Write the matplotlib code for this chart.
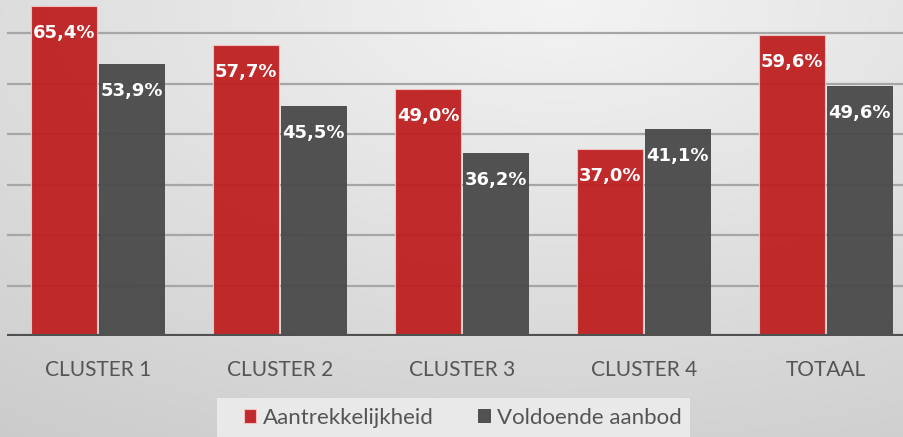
"""Aantrekkelijkheid vs voldoende aanbod per cluster."""

import matplotlib

matplotlib.use("Agg")
import matplotlib.pyplot as plt
import numpy as np
from matplotlib.patches import Rectangle

categories = ["CLUSTER 1", "CLUSTER 2", "CLUSTER 3", "CLUSTER 4", "TOTAAL"]
aantrekkelijkheid = [65.4, 57.7, 49.0, 37.0, 59.6]
voldoende_aanbod = [53.9, 45.5, 36.2, 41.1, 49.6]
series_names = ["Aantrekkelijkheid", "Voldoende aanbod"]

RED = "#bf1e1f"
GREY = "#4b4b4b"
TXT = "#555555"

W, H = 904, 437
fig = plt.figure(figsize=(W / 100, H / 100), dpi=100)

# achtergrond: lichte radiale gradient (licht bovenin, donkerder naar de randen)
bg = fig.add_axes([0, 0, 1, 1], zorder=-10)
yy, xx = np.mgrid[0:1:200j, 0:1:400j]
r = np.sqrt(((xx - 0.62) * 1.1) ** 2 + ((yy - 0.0) * 1.0) ** 2)
shade = 0.955 - 0.13 * np.clip(r, 0, 1.2)
bg.imshow(np.dstack([shade] * 3), aspect="auto", extent=[0, 1, 1, 0])
bg.set_xlim(0, 1)
bg.set_ylim(1, 0)
bg.axis("off")
# lichter legendavlak
bg.add_patch(Rectangle((217 / W, 398 / H), (690 - 217) / W, 1, color="#e9e9e9", lw=0))

ax = fig.add_axes([7 / W, (H - 336) / H, 910 / W, 336 / H])
ax.set_facecolor("none")

x = np.arange(len(categories))
bw = 0.36
gap = 0.006
ax.set_xlim(-0.5, len(categories) - 0.5)
ax.set_ylim(0, 66.6)

for g in range(10, 70, 10):
    ax.axhline(g, color="#a6a6a6", lw=1.6, zorder=1)
ax.axhline(0, color="#505050", lw=3, zorder=4)

b1 = ax.bar(x - bw / 2 - gap, aantrekkelijkheid, bw, color=RED, alpha=0.94,
            edgecolor="#f2c4c4", lw=0.8, zorder=2, label=series_names[0])
b2 = ax.bar(x + bw / 2 + gap, voldoende_aanbod, bw, color=GREY, alpha=0.96,
            lw=0, zorder=2, label=series_names[1])

for bars, vals in ((b1, aantrekkelijkheid), (b2, voldoende_aanbod)):
    for rect, v in zip(bars, vals):
        ax.annotate(f"{v:.1f}%".replace(".", ","),
                    (rect.get_x() + rect.get_width() / 2, v),
                    xytext=(0, -27), textcoords="offset pixels",
                    ha="center", va="center", color="white",
                    fontsize=13, fontweight="bold", family="DejaVu Sans", zorder=5)

for s in ax.spines.values():
    s.set_visible(False)
ax.set_yticks([])
ax.set_xticks(x)
ax.set_xticklabels(categories, family="Lato", fontsize=15, color=TXT)
ax.tick_params(axis="x", length=0, pad=17)

leg = fig.legend(handles=[b1, b2], loc="center", bbox_to_anchor=(463 / W, 1 - 418 / H),
                 ncol=2, frameon=False, handlelength=0.55, handleheight=0.55,
                 handletextpad=0.3, columnspacing=2.0,
                 prop={"family": "Lato", "size": 16})
for t in leg.get_texts():
    t.set_color(TXT)

fig.savefig("out.png", dpi=100)
